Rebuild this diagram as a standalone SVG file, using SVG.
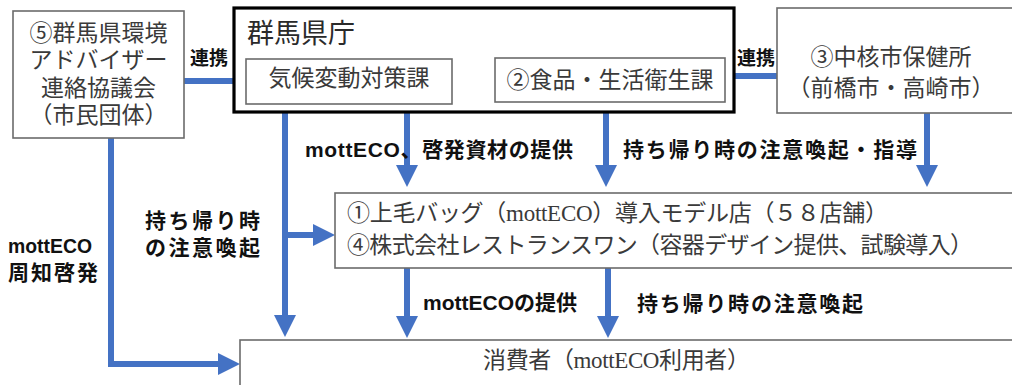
<svg xmlns="http://www.w3.org/2000/svg" width="1012" height="385" viewBox="0 0 1012 385">
<style>
.box{fill:#fff;stroke:#6b6b6b;stroke-width:1.6}
.thick{fill:#fff;stroke:#000;stroke-width:3.2}
.t{font-family:"Liberation Serif","Noto Sans CJK JP",serif;font-size:23px;fill:#3a3a3a}
.big{font-family:"Noto Sans CJK JP",sans-serif;font-size:27px;fill:#2a2a2a}
.lb{font-family:"Liberation Sans","Noto Sans CJK JP",sans-serif;font-size:21px;font-weight:bold;fill:#111}
.lk{font-family:"Liberation Sans","Noto Sans CJK JP",sans-serif;font-size:19px;font-weight:bold;fill:#111}
.c{fill:none;stroke:#4472C4;stroke-width:6}
</style>
<defs>
<marker id="ah" viewBox="0 0 22 22" markerWidth="22" markerHeight="22" refX="1" refY="11" orient="auto" markerUnits="userSpaceOnUse">
<path d="M0,0 L22,11 L0,22 z" fill="#4472C4"/>
</marker>
</defs>
<rect width="1012" height="385" fill="#fff"/>

<g id="connectors">
<line class="c" x1="184" y1="81" x2="234" y2="81"/>
<line class="c" x1="452" y1="79" x2="495" y2="79"/>
<line class="c" x1="734" y1="76" x2="777" y2="76"/>
<line class="c" x1="407" y1="112" x2="407" y2="166" marker-end="url(#ah)"/>
<line class="c" x1="606" y1="112" x2="606" y2="166" marker-end="url(#ah)"/>
<line class="c" x1="927" y1="113" x2="927" y2="166" marker-end="url(#ah)"/>
<line class="c" x1="285" y1="112" x2="285" y2="316" marker-end="url(#ah)"/>
<line class="c" x1="285" y1="235" x2="314" y2="235" marker-end="url(#ah)"/>
<polyline class="c" points="111,138 111,364 219,364" marker-end="url(#ah)"/>
<line class="c" x1="407" y1="268" x2="407" y2="317" marker-end="url(#ah)"/>
<line class="c" x1="608" y1="268" x2="608" y2="317" marker-end="url(#ah)"/>
</g>

<g id="labels">
<text class="lk" x="190" y="65">連携</text>
<text class="lk" x="455" y="65">連携</text>
<text class="lk" x="737" y="65">連携</text>
<text class="lb" x="305" y="157" textLength="268" lengthAdjust="spacing">mottECO、啓発資材の提供</text>
<text class="lb" x="623" y="157" textLength="294" lengthAdjust="spacing">持ち帰り時の注意喚起・指導</text>
<text class="lb" x="145" y="228" textLength="115" lengthAdjust="spacing">持ち帰り時</text>
<text class="lb" x="145" y="255" textLength="115" lengthAdjust="spacing">の注意喚起</text>
<text class="lb" x="8" y="253" textLength="84" lengthAdjust="spacingAndGlyphs">mottECO</text>
<text class="lb" x="8" y="280" textLength="90" lengthAdjust="spacing">周知啓発</text>
<text class="lb" x="423" y="310" textLength="154" lengthAdjust="spacing">mottECOの提供</text>
<text class="lb" x="637" y="311" textLength="226" lengthAdjust="spacing">持ち帰り時の注意喚起</text>
</g>

<g id="node-adviser">
<rect class="box" x="13" y="11" width="171" height="127"/>
<text class="t" x="98.5" y="41" text-anchor="middle">⑤群馬県環境</text>
<text class="t" x="98.5" y="68" text-anchor="middle">アドバイザー</text>
<text class="t" x="98.5" y="96" text-anchor="middle">連絡協議会</text>
<text class="t" x="98.5" y="123" text-anchor="middle">（市民団体）</text>
</g>

<g id="node-gunma">
<rect class="thick" x="234" y="8" width="500" height="104"/>
<text class="big" x="247" y="43">群馬県庁</text>
</g>

<g id="node-climate">
<rect class="box" x="246" y="59" width="206" height="45"/>
<text class="t" x="349" y="86" text-anchor="middle">気候変動対策課</text>
</g>

<g id="node-food">
<rect class="box" x="495" y="58" width="230" height="44"/>
<text class="t" x="610" y="88" text-anchor="middle">②食品・生活衛生課</text>
</g>

<g id="node-health">
<rect class="box" x="777" y="8" width="245" height="105"/>
<text class="t" x="891" y="65" text-anchor="middle">③中核市保健所</text>
<text class="t" x="891" y="96" text-anchor="middle">（前橋市・高崎市）</text>
</g>

<g id="node-stores">
<rect class="box" x="335" y="193" width="687" height="75"/>
<text class="t" x="347" y="221" textLength="541" lengthAdjust="spacing">①上毛バッグ（mottECO）導入モデル店（５８店舗）</text>
<text class="t" x="347" y="253" textLength="626" lengthAdjust="spacing">④株式会社レストランスワン（容器デザイン提供、試験導入）</text>
</g>

<g id="node-consumer">
<rect class="box" x="240" y="340" width="782" height="60"/>
<text class="t" x="483" y="368" textLength="267" lengthAdjust="spacing">消費者（mottECO利用者）</text>
</g>
</svg>
